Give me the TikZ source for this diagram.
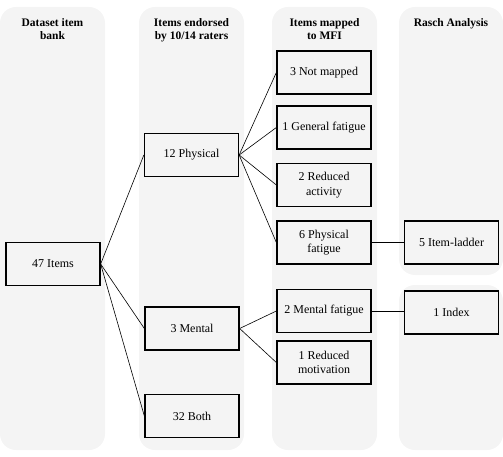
\documentclass[tikz,border=0pt]{standalone}
\usepackage{fontspec}
\setmainfont{Liberation Serif}
\definecolor{colbg}{RGB}{244,244,244}
\begin{document}
\begin{tikzpicture}[x=1pt,y=-1pt,
  lane/.style={fill=colbg,draw=none,rounded corners=16pt},
  itembox/.style={draw=black,line width=1.3pt,fill=colbg,minimum width=94pt,minimum height=43pt,
    inner sep=1pt,align=center,font=\fontsize{12}{14.5}\selectfont},
  header/.style={align=center,font=\fontsize{11.5}{12.5}\selectfont\bfseries,anchor=north},
  link/.style={draw=black,line width=0.6pt}]
\useasboundingbox (0,0) rectangle (503,457);
% lanes
\fill[lane] (0,7) rectangle (105,450);
\fill[lane] (139,7) rectangle (244,450);
\fill[lane] (272,7) rectangle (377,450);
\fill[lane] (399,7) rectangle (503,275);
\fill[lane] (399,285) rectangle (503,450);
% headers
\node[header] (h1) at (52.5,15) {Dataset item\\bank};
\node[header] (h2) at (191.5,15) {Items endorsed\\by 10/14 raters};
\node[header] (h3) at (324.5,15) {Items mapped\\to MFI};
\node[header] (h4) at (451,15) {Rasch Analysis};
% boxes
\node[itembox] (items) at (53,264) {47 Items};
\node[itembox] (phys) at (191.5,155) {12 Physical};
\node[itembox] (ment) at (192,328.5) {3 Mental};
\node[itembox] (both) at (192,416) {32 Both};
\node[itembox] (notm) at (324,72.5) {3 Not mapped};
\node[itembox] (genf) at (324,127.5) {1 General fatigue};
\node[itembox] (reda) at (324,185) {2 Reduced\\activity};
\node[itembox] (phyf) at (324,242.5) {6 Physical\\fatigue};
\node[itembox] (menf) at (324,311) {2 Mental fatigue};
\node[itembox] (redm) at (324,362.5) {1 Reduced\\motivation};
\node[itembox] (ladd) at (451.5,242.5) {5 Item-ladder};
\node[itembox] (indx) at (451.5,312.5) {1 Index};
% links
\draw[link] (items.east) -- (phys.west);
\draw[link] (items.east) -- (ment.west);
\draw[link] (items.east) -- (both.west);
\draw[link] (phys.east) -- (notm.west);
\draw[link] (phys.east) -- (genf.west);
\draw[link] (phys.east) -- (reda.west);
\draw[link] (phys.east) -- (phyf.west);
\draw[link] (ment.east) -- (menf.west);
\draw[link] (ment.east) -- (redm.west);
\draw[link] (phyf.east) -- (ladd.west);
\draw[link] (menf.east) -- (menf.east -| indx.west);
\end{tikzpicture}
\end{document}
